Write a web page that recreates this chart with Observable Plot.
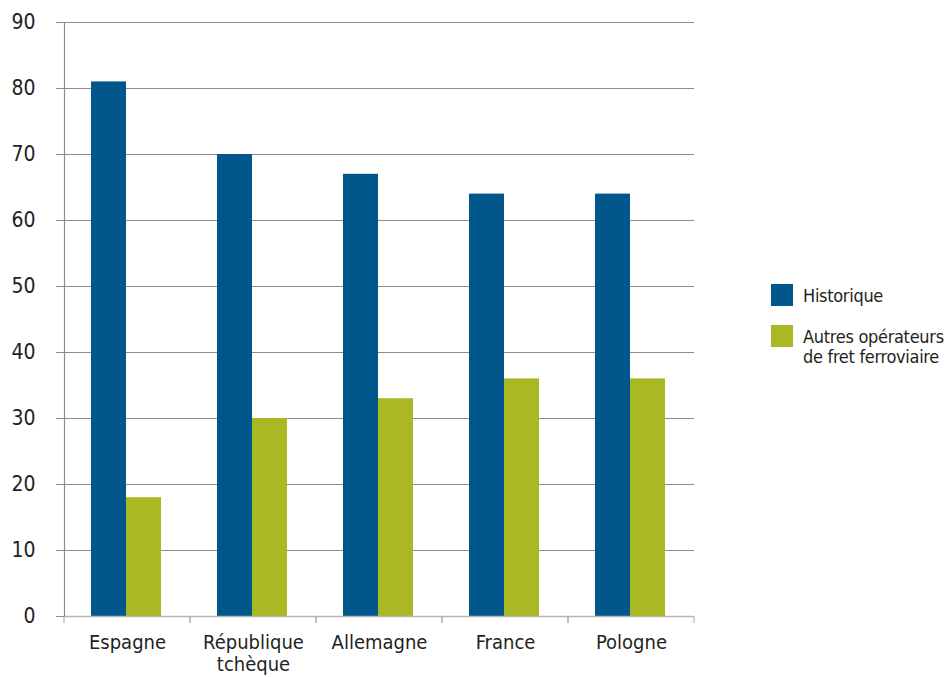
<!DOCTYPE html>
<html>
<head>
<meta charset="utf-8">
<script src="https://cdn.jsdelivr.net/npm/d3@7"></script>
<script src="https://cdn.jsdelivr.net/npm/@observablehq/plot@0.6"></script>
<style>
  html, body { margin: 0; padding: 0; background: #fff; }
  #wrap { position: relative; width: 948px; height: 677px; overflow: hidden;
          font-family: 'Liberation Sans Narrow', 'DejaVu Sans', sans-serif; font-stretch: condensed; color: #231f20; }
  #chart { position: absolute; left: 0; top: 0; }
  #chart svg text { font-stretch: condensed; }
  .leg { position: absolute; left: 771px; display: flex; align-items: flex-start; }
  .sw { width: 22px; height: 22px; flex: none; }
  .lt { margin-left: 10px; margin-top: 2px; font-size: 18px; line-height: 20px; white-space: nowrap; letter-spacing: -0.3px; }
</style>
</head>
<body>
<div id="wrap">
  <div id="chart"></div>
  <div id="legend"></div>
</div>
<script>
// ---- data ----
const countries = ["Espagne", "République tchèque", "Allemagne", "France", "Pologne"];
const series = ["Historique", "Autres opérateurs de fret ferroviaire"];
const historique = [81, 70, 67, 64, 64];
const autres = [18, 30, 33, 36, 36];
const yTicks = [0, 10, 20, 30, 40, 50, 60, 70, 80, 90];
const colors = ["#01568b", "#a9b823"];
const legendLabels = ["Historique", "Autres opérateurs<br>de fret ferroviaire"];

const data = [];
countries.forEach((c, i) => {
  data.push({country: c, series: series[0], value: historique[i]});
  data.push({country: c, series: series[1], value: autres[i]});
});

const gridColor = "#8c8c8c";
const baseColor = "#b5b5b5";

// small ticks at the boundaries of each country band (repeated in each facet)
const bandTicks = (index, scales, values, dims) => {
  const g = d3.create("svg:g").attr("stroke", baseColor).attr("stroke-width", 1.2);
  const y0 = dims.height - dims.marginBottom;
  for (const x of [dims.marginLeft, dims.width - dims.marginRight]) {
    g.append("line").attr("x1", x).attr("x2", x).attr("y1", y0).attr("y2", y0 + 7);
  }
  return g.node();
};

const plot = Plot.plot({
  width: 948,
  height: 677,
  marginLeft: 62,
  marginRight: 252,
  marginTop: 22,
  marginBottom: 61,
  style: {fontFamily: "'Liberation Sans Narrow', 'DejaVu Sans', sans-serif", color: "#231f20", background: "#fff"},
  fx: {domain: countries, padding: 0, label: null},
  x: {domain: series, paddingInner: 0, paddingOuter: 0.76, align: 0.48, axis: null},
  y: {domain: [0, 90], label: null},
  color: {domain: series, range: colors},
  marks: [
    Plot.ruleY(yTicks.filter(d => d > 0), {stroke: gridColor, strokeWidth: 1.2}),
    Plot.barY(data, {fx: "country", x: "series", y: "value", fill: "series"}),
    Plot.ruleY([0], {stroke: baseColor, strokeWidth: 1.5}),
    Plot.frame({anchor: "left", facetAnchor: "left", stroke: gridColor, strokeWidth: 1.2}),
    bandTicks,
    Plot.axisY(yTicks, {tickSize: 8, tickPadding: 21, fontSize: 21, stroke: gridColor, fill: "#231f20", label: null}),
    Plot.axisFx({anchor: "bottom", tickSize: 0, tickPadding: 17, fontSize: 20, fill: "#231f20", label: null,
                 lineHeight: 1.1, tickFormat: d => d.replace(" ", "\n")})
  ]
});
document.getElementById("chart").appendChild(plot);

// legend
const legend = document.getElementById("legend");
const tops = [284, 325];
series.forEach((s, i) => {
  const item = document.createElement("div");
  item.className = "leg";
  item.style.top = tops[i] + "px";
  item.innerHTML = `<div class="sw" style="background:${colors[i]}"></div><div class="lt">${legendLabels[i]}</div>`;
  legend.appendChild(item);
});
</script>
</body>
</html>
